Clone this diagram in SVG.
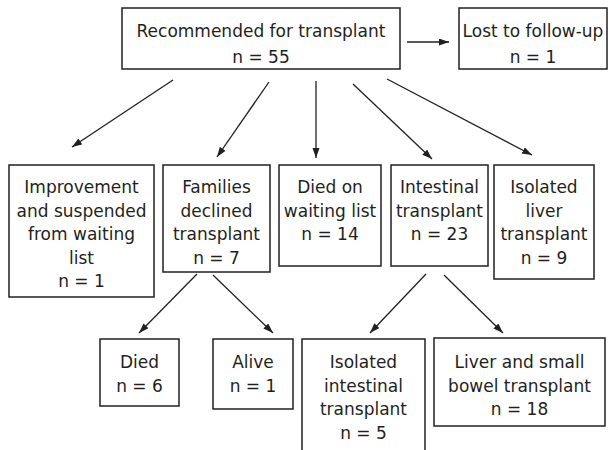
<svg xmlns="http://www.w3.org/2000/svg" width="608" height="450" viewBox="0 0 608 450">
<defs>
<style>
.box{fill:#fff;stroke:#231f20;stroke-width:1.5}
.t{font-family:"DejaVu Sans","Liberation Sans",sans-serif;font-size:17px;fill:#231f20;text-anchor:middle}
.c{stroke:#231f20;stroke-width:1.3;fill:none;marker-end:url(#ah)}
</style>
<marker id="ah" markerUnits="userSpaceOnUse" markerWidth="11" markerHeight="8" refX="10" refY="3.5" orient="auto">
<path d="M0,0 L10,3.5 L0,7 Z" fill="#231f20"/>
</marker>
</defs>
<rect width="608" height="450" fill="#fff"/>
<g id="connectors">
<line class="c" x1="407" y1="42" x2="449" y2="42"/>
<line class="c" x1="173" y1="80" x2="72" y2="147"/>
<line class="c" x1="269" y1="82" x2="217" y2="157"/>
<line class="c" x1="316" y1="81" x2="316" y2="158"/>
<line class="c" x1="353" y1="84" x2="432" y2="159"/>
<line class="c" x1="387" y1="79" x2="532" y2="155"/>
<line class="c" x1="197" y1="274" x2="139" y2="333"/>
<line class="c" x1="213" y1="275" x2="273" y2="333"/>
<line class="c" x1="426" y1="274" x2="370" y2="333"/>
<line class="c" x1="444" y1="275" x2="503" y2="333"/>
</g>
<g id="n-recommended">
<rect class="box" x="122" y="8" width="278" height="61"/>
<text class="t" x="261" y="37">Recommended for transplant</text>
<text class="t" x="261" y="63">n = 55</text>
</g>
<g id="n-lost">
<rect class="box" x="459" y="8" width="148" height="61"/>
<text class="t" x="533" y="37">Lost to follow-up</text>
<text class="t" x="533" y="63">n = 1</text>
</g>
<g id="n-improvement">
<rect class="box" x="9" y="165" width="145" height="132"/>
<text class="t" x="81.5" y="193">Improvement</text>
<text class="t" x="81.5" y="216.5">and suspended</text>
<text class="t" x="81.5" y="240">from waiting</text>
<text class="t" x="81.5" y="263.5">list</text>
<text class="t" x="81.5" y="287">n = 1</text>
</g>
<g id="n-families">
<rect class="box" x="163" y="165" width="107" height="107"/>
<text class="t" x="216.5" y="193">Families</text>
<text class="t" x="216.5" y="216.5">declined</text>
<text class="t" x="216.5" y="240">transplant</text>
<text class="t" x="216.5" y="263.5">n = 7</text>
</g>
<g id="n-died-waiting">
<rect class="box" x="279" y="165" width="102" height="101"/>
<text class="t" x="330" y="193">Died on</text>
<text class="t" x="330" y="216.5">waiting list</text>
<text class="t" x="330" y="240">n = 14</text>
</g>
<g id="n-intestinal">
<rect class="box" x="391" y="165" width="97" height="101"/>
<text class="t" x="439.5" y="193">Intestinal</text>
<text class="t" x="439.5" y="216.5">transplant</text>
<text class="t" x="439.5" y="240">n = 23</text>
</g>
<g id="n-liver">
<rect class="box" x="494" y="165" width="100" height="114"/>
<text class="t" x="544" y="193">Isolated</text>
<text class="t" x="544" y="216.5">liver</text>
<text class="t" x="544" y="240">transplant</text>
<text class="t" x="544" y="263.5">n = 9</text>
</g>
<g id="n-died">
<rect class="box" x="100" y="339" width="79" height="67"/>
<text class="t" x="139.5" y="368">Died</text>
<text class="t" x="139.5" y="391.5">n = 6</text>
</g>
<g id="n-alive">
<rect class="box" x="213" y="339" width="80" height="70"/>
<text class="t" x="253" y="368">Alive</text>
<text class="t" x="253" y="391.5">n = 1</text>
</g>
<g id="n-isolated-intestinal">
<rect class="box" x="302" y="339" width="123" height="130"/>
<text class="t" x="363.5" y="368">Isolated</text>
<text class="t" x="363.5" y="391.5">intestinal</text>
<text class="t" x="363.5" y="415">transplant</text>
<text class="t" x="363.5" y="438.5">n = 5</text>
</g>
<g id="n-liver-bowel">
<rect class="box" x="434" y="338" width="171" height="88"/>
<text class="t" x="519.5" y="368">Liver and small</text>
<text class="t" x="519.5" y="391.5">bowel transplant</text>
<text class="t" x="519.5" y="415">n = 18</text>
</g>
</svg>
